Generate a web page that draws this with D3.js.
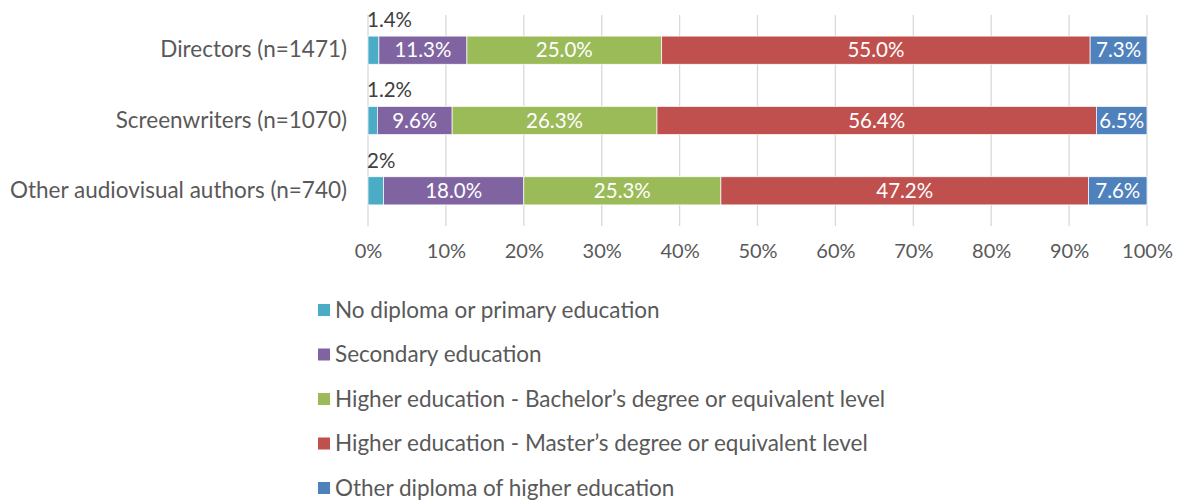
<!DOCTYPE html>
<html>
<head>
<meta charset="utf-8">
<script src="https://cdn.jsdelivr.net/npm/d3@7"></script>
<style>
  body { margin: 0; background: #fff; }
  svg text { font-family: Lato, "Open Sans", sans-serif; }
</style>
</head>
<body>
<div id="chart"></div>
<script>
const categories = ['Directors (n=1471)', 'Screenwriters (n=1070)', 'Other audiovisual authors (n=740)'];
const seriesNames = [
  'No diploma or primary education',
  'Secondary education',
  'Higher education - Bachelor\u2019s degree or equivalent level',
  'Higher education - Master\u2019s degree or equivalent level',
  'Other diploma of higher education'
];
const noDiploma = [1.4, 1.2, 2];
const secondary = [11.3, 9.6, 18.0];
const bachelor = [25.0, 26.3, 25.3];
const master = [55.0, 56.4, 47.2];
const otherHigher = [7.3, 6.5, 7.6];
const labelsNoDiploma = ['1.4%', '1.2%', '2%'];
const tickValues = [0, 10, 20, 30, 40, 50, 60, 70, 80, 90, 100];
const colors = ['#4BACC6', '#8064A2', '#9BBB59', '#C0504D', '#4F81BD'];

const w = 1181;
const h = 503;

const rows = categories.map(function (c, i) {
  return { cat: c, vals: [noDiploma[i], secondary[i], bachelor[i], master[i], otherHigher[i]] };
});

const xScale = d3.scaleLinear().domain([0, 100]).range([368, 1147]);
const yScale = d3.scaleBand().domain(categories).range([15, 226]).paddingInner(0.6).paddingOuter(0.3);

const svg = d3.select('#chart').append('svg').attr('width', w).attr('height', h);

// gridlines
svg.append('g').selectAll('line').data(tickValues).enter().append('line')
  .attr('x1', d => xScale(d)).attr('x2', d => xScale(d))
  .attr('y1', 15).attr('y2', 226)
  .attr('stroke', '#d9d9d9').attr('stroke-width', 1.3);

// axis tick labels
const xAxis = d3.axisBottom(xScale).tickValues(tickValues).tickFormat(d => d + '%').tickSize(0).tickPadding(0);
const gx = svg.append('g').attr('transform', 'translate(0,244)').call(xAxis);
gx.select('.domain').remove();
gx.selectAll('text').attr('font-size', 20).attr('fill', '#595959').attr('dy', '0.71em')
  .style('font-family', 'Lato, sans-serif');

// category labels
const yAxis = d3.axisLeft(yScale).tickSize(0).tickPadding(0);
const gy = svg.append('g').attr('transform', 'translate(347,0)').call(yAxis);
gy.select('.domain').remove();
gy.selectAll('text').attr('font-size', 22.5).attr('fill', '#595959')
  .style('font-family', 'Lato, sans-serif');

// stacked bars
const stacked = rows.map(function (r) {
  let x0 = 0;
  return r.vals.map(function (v, k) {
    const seg = { cat: r.cat, k: k, v: v, x0: x0, x1: x0 + v };
    x0 += v;
    return seg;
  });
});

const rowG = svg.selectAll('.row').data(stacked).enter().append('g').attr('class', 'row');

rowG.selectAll('rect').data(d => d).enter().append('rect')
  .attr('x', d => xScale(d.x0))
  .attr('y', d => yScale(d.cat))
  .attr('width', d => Math.min(xScale(d.x1), xScale(100)) - xScale(d.x0))
  .attr('height', yScale.bandwidth())
  .attr('fill', d => colors[d.k])
  .attr('stroke', '#ffffff').attr('stroke-width', 0.7);

// inside labels
rowG.selectAll('text.in').data(d => d.filter(s => s.k > 0)).enter().append('text')
  .attr('class', 'in')
  .attr('x', d => (xScale(d.x0) + Math.min(xScale(d.x1), xScale(100))) / 2)
  .attr('y', d => yScale(d.cat) + yScale.bandwidth() / 2)
  .attr('dy', '0.35em')
  .attr('text-anchor', 'middle')
  .attr('font-size', 20.5)
  .attr('fill', '#ffffff')
  .text(d => d.v.toFixed(1) + '%');

// small labels above first segment
svg.selectAll('text.out').data(categories).enter().append('text')
  .attr('class', 'out')
  .attr('x', xScale(0) - 1)
  .attr('y', d => yScale(d) - 9)
  .attr('font-size', 20.5)
  .attr('fill', '#404040')
  .text((d, i) => labelsNoDiploma[i]);

// legend
const legend = svg.append('g').selectAll('g').data(seriesNames).enter().append('g')
  .attr('transform', (d, i) => 'translate(318,' + (310 + i * 44.5) + ')');
legend.append('rect').attr('x', 0).attr('y', -6).attr('width', 12).attr('height', 12)
  .attr('fill', (d, i) => colors[i]);
legend.append('text').attr('x', 17).attr('y', 0).attr('dy', '0.35em')
  .attr('font-size', 22.5).attr('fill', '#595959').text(d => d);
</script>
</body>
</html>
